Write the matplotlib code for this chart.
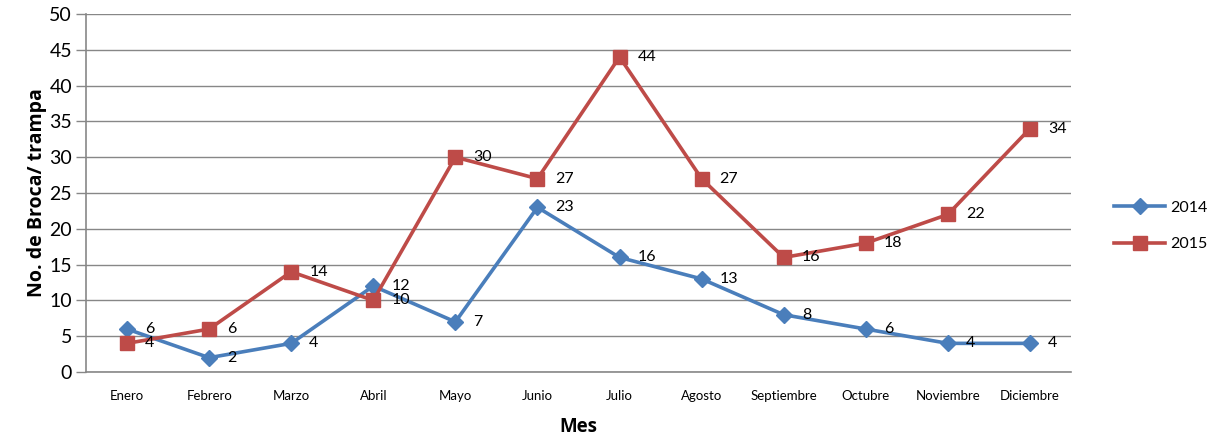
import matplotlib
matplotlib.use("Agg")
import matplotlib.pyplot as plt

months = ["Enero", "Febrero", "Marzo", "Abril", "Mayo", "Junio", "Julio",
          "Agosto", "Septiembre", "Octubre", "Noviembre", "Diciembre"]
s2014 = [6, 2, 4, 12, 7, 23, 16, 13, 8, 6, 4, 4]
s2015 = [4, 6, 14, 10, 30, 27, 44, 27, 16, 18, 22, 34]
yticks = list(range(0, 51, 5))

plt.rcParams['font.family'] = ['Lato', 'DejaVu Sans']

fig = plt.figure(figsize=(12.15, 4.38), dpi=100)
ax = fig.add_axes([86/1215, 1-372/438, 985/1215, 358/438])

blue = "#4A7EBB"
red = "#BE4B48"
x = list(range(len(months)))
ax.plot(x, s2014, color=blue, lw=2.6, marker="D", ms=8, label="2014", zorder=3)
ax.plot(x, s2015, color=red, lw=2.6, marker="s", ms=10, label="2015", zorder=3)

for xi, v in zip(x, s2014):
    ax.annotate(str(v), (xi, v), xytext=(13, 0), textcoords="offset points",
                va="center", ha="left", fontsize=11.5, color="black")
for xi, v in zip(x, s2015):
    ax.annotate(str(v), (xi, v), xytext=(13, 0), textcoords="offset points",
                va="center", ha="left", fontsize=11.5, color="black")

ax.set_xlim(-0.5, 11.5)
ax.set_ylim(0, 50)
ax.set_yticks(yticks)
ax.set_xticks(x)
ax.set_xticklabels(months, fontsize=9.5)
ax.tick_params(axis="y", labelsize=14, length=7, color="#878787", width=1, pad=3)
ax.tick_params(axis="x", length=0, pad=13)
ax.grid(axis="y", color="#878787", lw=1)
ax.set_axisbelow(True)
for s in ["top", "right"]:
    ax.spines[s].set_visible(False)
for s in ["left", "bottom"]:
    ax.spines[s].set_color("#878787")
    ax.spines[s].set_linewidth(1.2)

ax.set_ylabel("No. de Broca/ trampa", fontsize=14, fontweight="bold",
              family=["Open Sans", "DejaVu Sans"], labelpad=2)
ax.set_xlabel("Mes", fontsize=13.5, fontweight="bold",
              family=["Open Sans", "DejaVu Sans"], labelpad=11)

leg = fig.legend(loc="center left", bbox_to_anchor=(1100/1215, 1-226/438),
                 frameon=False, fontsize=11.5, handlelength=3.2, labelspacing=1.4,
                 handletextpad=0.3)

fig.savefig("out.png", dpi=100)
